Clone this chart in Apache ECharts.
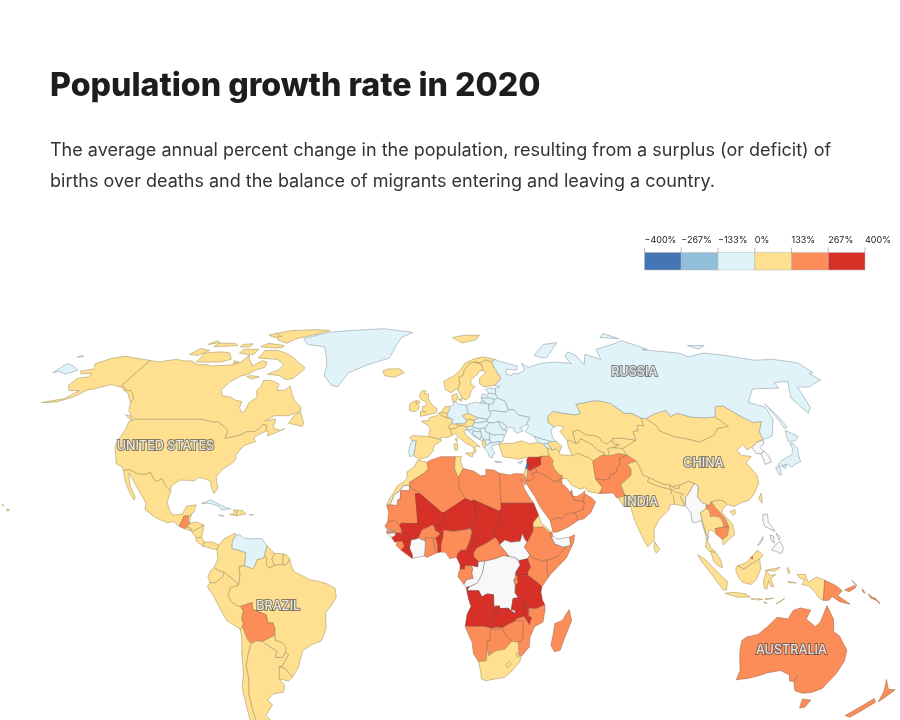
<!DOCTYPE html>
<html><head><meta charset="utf-8">
<style>html,body{margin:0;padding:0;background:#fff}#c{width:900px;height:720px}</style>
<script src="https://cdn.jsdelivr.net/npm/echarts@6/dist/echarts.min.js"></script>
</head><body><div id="c"></div>
<script>
const titleText = 'Population growth rate in 2020';
const subtitleText = 'The average annual percent change in the population, resulting from a surplus (or deficit) of\nbirths over deaths and the balance of migrants entering and leaving a country.';
const legendTicks = [-400, -267, -133, 0, 133, 267, 400];
const legendLabels = ['\u2212400%', '\u2212267%', '\u2212133%', '0%', '133%', '267%', '400%'];
const bandColors = ['#4575b4', '#91bfdb', '#e0f3f8', '#fee090', '#fc8d59', '#d73027'];
const bandBorders = ['#2f4f7f', '#6b8ea3', '#8ea3ad', '#ab9a66', '#a9694a', '#94302a'];
const bandEstimates = [-333, -200, -67, 67, 200, 333];
const band0 = ['Lebanon'];
const band1 = [];
const band2 = ['Greenland','Russia','Chukotka','Wrangel','Novaya Zemlya','Severnaya','New Siberian','Sakhalin','Kaliningrad','Venezuela','Cuba','Jamaica','Puerto Rico','Japan','Hokkaido','Kyushu','Shikoku','Germany','Poland','Lithuania','Latvia','Estonia','Belarus','Ukraine','Moldova','Romania','Bulgaria','Serbia','Croatia','Bosnia','Montenegro','N Macedonia','Greece','Crete','Hungary','Slovakia','Slovenia','Portugal','Georgia','Armenia','Cyprus'];
const band3 = ['Canada','Baffin','Ellesmere','Axel','Devon','Victoria','Banks','Melville','Somerset','Southampton','Newfoundland','Vancouver','Bathurst','Prince Patrick','King William','United States','Alaska','Hawaii','Hawaii2','Mexico','Belize','El Salvador','Honduras','Nicaragua','Costa Rica','Panama','Haiti','Dominican Rep','Colombia','Ecuador','Peru','Guyana','Suriname','French Guiana','Brazil','Chile','Argentina','Tierra del Fuego','Paraguay','Uruguay','Morocco','Tunisia','Eritrea','South Africa','Lesotho','Eswatini','Turkey','Azerbaijan','Iran','Turkmenistan','Uzbekistan','Kyrgyzstan','Tajikistan','Kazakhstan','Mongolia','China','Hainan','Taiwan','India','Bangladesh','Nepal','Bhutan','Sri Lanka','Thailand','Vietnam','Malaysia','Sabah Sarawak','Kalimantan','Sumatra','Java','Sulawesi','Timor','Halmahera','Seram','Bali','Sumbawa','Flores','Sumba','Papua','Norway','Svalbard','Sweden','Finland','Denmark','Zealand','Iceland','Great Britain','N Ireland','Ireland','France','Spain','Italy','Sicily','Sardinia','Corsica','Switzerland','Belgium','Luxembourg','Netherlands','Austria','Czechia','Albania','Israel'];
const band4 = ['Guatemala','Bolivia','Algeria','Libya','Egypt','Mauritania','Senegal','Burkina Faso','Togo','Ghana','Sierra Leone','Nigeria','CAR','Gabon','Ethiopia','Djibouti','Somalia','Kenya','Rwanda','Burundi','Mozambique','Zimbabwe','Namibia','Botswana','Madagascar','Saudi Arabia','Yemen','Oman','UAE','Qatar','Kuwait','Iraq','Jordan','Afghanistan','Pakistan','Laos','Cambodia','Brunei','PNG','New Britain','New Ireland','Bougainville','Solomon','Solomon2','Australia','Tasmania','NZ North','NZ South'];
const band5 = ['Mali','Niger','Chad','Sudan','Cameroon','Eq Guinea','Benin','Guinea','Liberia','Uganda','Tanzania','Angola','Cabinda','Zambia','Malawi','Syria'];
const mapLabels = ['UNITED STATES','RUSSIA','CHINA','INDIA','BRAZIL','AUSTRALIA'];
const mapLabelLon = [-104.6, 95.6, 103.1, 76.5, -56, 132.5];
const mapLabelLat = [40.3, 65.3, 34.8, 22.4, -10.9, -25];

const shapes = {
'Canada':'-141,69.6 -135,69 -133,69.5 -128,70 -125,69.5 -120,69.4 -115,68 -110,68 -108,67.5 -102,67.8 -98,68 -95,69 -94,71.8 -92,70 -90,69 -88,67.5 -85,69.5 -82,69 -81.5,67 -85,66 -87,64.5 -90,63.8 -93,61.8 -94.5,59 -92.5,57 -88,56.4 -85,55.3 -82.3,55 -82,52.9 -80,51.3 -79,51.6 -79,54.5 -76.8,56.5 -78.5,58.7 -77.5,60 -78,62.4 -74,62.2 -70,61 -69.5,58.8 -66,58.8 -64.5,60.3 -62,57.5 -60,55.5 -56,53 -55.7,51.8 -60,50.2 -66,50.2 -69,48.5 -65,49.2 -64.5,47.5 -65,47 -64,46 -61,45.3 -60,46 -63,44.6 -66,43.6 -66,45 -67,45.2 -67.8,47.1 -69.2,47.4 -70.3,45.9 -71.5,45 -74.7,45 -76.5,44 -79,43.4 -82.5,42.8 -82.5,45.3 -84.5,46.5 -88.4,48.3 -89.6,48 -95,49 -123,49 -125,50 -128,52 -130,54.7 -130,56 -134,58.5 -137.5,59 -139,60 -141,60.3',
'Alaska':'-141,69.6 -141,60.3 -139,60 -137.5,59 -134,58.5 -130,56 -130,54.7 -132,56 -135,58 -137,58.5 -140,59.8 -146,60.8 -149,60 -152,59.2 -154,59 -157,56.5 -162,54.8 -168,54.6 -160,56 -157.5,58.7 -162,58.7 -165,60.5 -165,63 -161,63.5 -161,64.8 -166,64.6 -168,65.6 -163,66.5 -166,68.3 -162,70.3 -156.5,71.3 -150,70.5 -145,70',
'United States':'-123,49 -124.7,48.3 -124,46 -124.3,43 -124.3,40.3 -122.5,37.5 -120.6,34.5 -118,33.7 -117.1,32.5 -114.7,32.7 -111,31.3 -108.2,31.3 -106.5,31.8 -104.5,29.6 -103,29 -101.5,29.8 -99.5,27.5 -97.2,25.9 -97.4,27.5 -94.7,29.4 -91,29.3 -89.2,29.1 -88,30.3 -85,29.7 -83,29 -82.7,27.5 -81,25.1 -80,26.8 -81.4,30.5 -79.5,33 -76.5,34.8 -75.7,36 -76,37.5 -74,40.5 -70,41.7 -71,42.8 -70,43.8 -67,45.2 -67.8,47.1 -69.2,47.4 -70.3,45.9 -71.5,45 -74.7,45 -76.5,44 -79,43.4 -82.5,42.8 -82.5,45.3 -84.5,46.5 -88.4,48.3 -89.6,48 -95,49',
'Hawaii':'-156,19.5 -155,19.8 -155.9,20.2',
'Hawaii2':'-157.5,21.3 -158.2,21.6 -158,21.2',
'Vancouver':'-123.5,48.4 -128,50.5 -125,50',
'Baffin':'-62,66 -65,63 -68,62.5 -72,64 -78,64.5 -74,66 -73,68 -78,70 -88,70.5 -88,73.5 -81,73.5 -76,72.5 -70,70.5 -67,69 -62,67',
'Ellesmere':'-62,82.5 -70,83 -85,82.5 -92,81 -87,78 -80,76.5 -78,78 -75,79 -68,80.5',
'Axel':'-92,81 -95,80 -90,79 -87,79.5',
'Devon':'-80,75.5 -90,76.5 -92,75 -85,74.5 -80,74.7',
'Victoria':'-105,69 -117,69 -118,72.5 -110,73 -105,72.5 -101,70',
'Banks':'-120,71.5 -125,72 -123,74.3 -117,73.5',
'Melville':'-105,75.5 -117,75 -117,76.5 -108,76.5',
'Somerset':'-92,72 -96,72 -100,72.5 -100,74 -92,74',
'Bathurst':'-98,76.3 -103,76 -103,75 -98,74.8',
'Prince Patrick':'-117,76.8 -122,76 -120,77.6',
'King William':'-96,69 -99,69.5 -98,68.2',
'Southampton':'-85,64 -81,63.5 -84,62.8 -87,63.7',
'Newfoundland':'-59,47.7 -53,46.7 -52.8,47.8 -55.5,51.5 -57.5,50.5',
'Greenland':'-73,78.5 -68,76 -58,75 -54,71 -52,68 -51,64 -46,60.5 -43,60 -40,65 -32,68 -22,70.5 -20,75 -18,79 -12,81.5 -30,83.5 -50,82.5 -62,81.5',
'Mexico':'-117.1,32.5 -114.7,32.7 -111,31.3 -108.2,31.3 -106.5,31.8 -104.5,29.6 -103,29 -101.5,29.8 -99.5,27.5 -97.2,25.9 -97.8,22.3 -96,19 -94.5,18.2 -91.5,18.6 -90.5,21 -87,21.5 -87.5,19 -88.3,18.5 -89.1,17.9 -91,17.9 -91,17.2 -92.2,14.6 -94.5,16.2 -96.5,15.7 -101,17.3 -105.5,20 -105.5,22 -109,26 -112.7,30 -114.7,31.7 -113,28 -110,24 -110,23 -112,25 -115,29',
'Guatemala':'-92.2,14.6 -91,17.2 -91,17.9 -89.1,17.9 -89.1,15.9 -88.2,15.7 -89.3,14.5 -90.1,13.8',
'Belize':'-88.3,18.5 -89.1,17.9 -89.1,15.9 -88.5,16',
'El Salvador':'-90.1,13.8 -89.3,14.5 -87.8,13.9 -87.8,13.2',
'Honduras':'-89.3,14.5 -88.2,15.7 -86,16 -83.2,15 -85,14 -87,13 -87.8,13.2 -87.8,13.9',
'Nicaragua':'-83.2,15 -83.7,11 -85.7,11 -87.6,13 -87,13 -85,14',
'Costa Rica':'-83.7,11 -82.6,9.6 -83,8.2 -85.7,10 -85.7,11',
'Panama':'-82.6,9.6 -79.5,9.6 -77.3,8.6 -77.9,7.2 -80,7.4 -81.5,8 -83,8.2',
'Cuba':'-85,21.9 -82,23.1 -77,21 -74.2,20.2 -77.5,19.9 -78.5,21 -82,22',
'Haiti':'-74.4,18.4 -71.7,18 -71.7,19.8 -73,19.9 -72.7,18.6',
'Dominican Rep':'-71.7,18 -68.4,18.6 -69.8,19.7 -71.7,19.8',
'Jamaica':'-78.3,18.3 -76.3,18 -77,17.8',
'Puerto Rico':'-67.2,18.4 -65.6,18.3 -66,18',
'Colombia':'-77.3,8.6 -75.5,10.6 -71.7,12.4 -71.3,11.6 -72.5,10 -72.5,7.5 -70,7 -67.5,6.2 -67.8,2 -69.8,1.7 -69.4,-1 -70,-4.2 -72,-2.4 -75.2,-0.1 -77,0.4 -78.8,1.4 -77.5,4 -77.9,7.2',
'Venezuela':'-71.3,11.6 -72.5,10 -72.5,7.5 -70,7 -67.5,6.2 -67.8,2 -65,1 -64,2 -63.4,3.9 -61,4.4 -60.7,5.2 -59.9,8.4 -62,10.7 -66,10.6 -68.5,10.8 -70,12.1',
'Guyana':'-59.9,8.4 -60.7,5.2 -59.9,4.4 -60,2.3 -59,1.3 -57,2 -58,4 -57.2,6',
'Suriname':'-57.2,6 -58,4 -57,2 -55,2.5 -54,2.2 -54,5.8',
'French Guiana':'-54,5.8 -54,2.2 -52.7,2.3 -51.6,4.2 -52.8,5.5',
'Brazil':'-51.6,4.2 -52.7,2.3 -54,2.2 -55,2.5 -57,2 -59,1.3 -60,2.3 -59.9,4.4 -60.7,5.2 -61,4.4 -63.4,3.9 -64,2 -65,1 -67.8,2 -69.8,1.7 -69.4,-1 -70,-4.2 -73,-5 -74,-7.3 -73,-9.4 -70.6,-11 -69.6,-11 -65.4,-9.8 -65.3,-12 -60.5,-13.7 -60.2,-16.3 -58.3,-16.3 -57.8,-18 -58,-20.2 -57.9,-22 -55.7,-22.4 -54.3,-24 -54.6,-25.6 -53.7,-26.5 -56.7,-30.2 -57.6,-30.2 -55.5,-31 -53.4,-33.7 -50.5,-30.5 -48.6,-26 -48,-25 -44.5,-23.2 -41,-22 -39,-18 -39,-13 -37,-11 -34.9,-8 -35.3,-5.2 -38.5,-3.7 -41.5,-2.9 -44.3,-2.5 -48,-0.7 -50,0 -51,2',
'Ecuador':'-75.2,-0.1 -75.6,-1.5 -78.4,-3.5 -80.3,-3.4 -81,-1.5 -80,0.5 -78.8,1.4 -77,0.4',
'Peru':'-70,-4.2 -72,-2.4 -75.2,-0.1 -75.6,-1.5 -78.4,-3.5 -80.3,-3.4 -81.3,-4.6 -79,-8 -77,-12 -75,-15.5 -70.4,-18.3 -69.5,-17.5 -69,-16.5 -69.5,-15 -68.7,-12.5 -69.6,-11 -70.6,-11 -73,-9.4 -74,-7.3 -73,-5',
'Bolivia':'-69.6,-11 -65.4,-9.8 -65.3,-12 -60.5,-13.7 -60.2,-16.3 -58.3,-16.3 -57.8,-18 -58,-20.2 -62.6,-22.2 -65,-22.1 -67,-22.9 -68.2,-21.5 -69,-19 -69.5,-17.5 -69,-16.5 -69.5,-15 -68.7,-12.5',
'Chile':'-70.4,-18.3 -69.5,-17.5 -69,-19 -68.2,-21.5 -67,-22.9 -68.4,-26 -70,-30 -70,-34 -71.5,-39 -72,-44 -72.5,-50 -71,-52 -68.5,-52.3 -68.6,-54.9 -72,-54 -75,-50 -74,-43 -73.5,-37 -71.5,-32 -71,-27 -70.2,-21',
'Argentina':'-65,-22.1 -62.6,-22.2 -60,-24 -57.7,-25.3 -58.6,-27.3 -56,-27.3 -54.6,-25.6 -53.7,-26.5 -56.7,-30.2 -57.6,-30.2 -58.2,-33 -58.4,-34.2 -57,-36.5 -58,-38.5 -62,-39 -65,-41 -63.5,-42.5 -67.5,-46 -66,-48 -69,-51 -68.5,-52.3 -71,-52 -72.5,-50 -72,-44 -71.5,-39 -70,-34 -70,-30 -68.4,-26 -67,-22.9',
'Tierra del Fuego':'-68.6,-52.7 -65.2,-54.9 -68.6,-54.9',
'Paraguay':'-58,-20.2 -57.9,-22 -55.7,-22.4 -54.3,-24 -54.6,-25.6 -56,-27.3 -58.6,-27.3 -57.7,-25.3 -60,-24 -62.6,-22.2',
'Uruguay':'-57.6,-30.2 -55.5,-31 -53.4,-33.7 -55,-34.9 -58.4,-34.2 -58.2,-33',
'Morocco':'-5.9,35.8 -2.2,35.1 -1.7,33 -3.5,31.5 -8.7,28.7 -8.7,27.7 -11,27.7 -12,26.3 -14.5,24.5 -15.8,21.4 -17,21.4 -16,23.5 -14.8,25 -13.2,27.7 -11.5,28.5 -9.7,30 -9.8,32 -7,33.8',
'W Sahara':'-8.7,27.7 -8.7,26 -12,26 -12,23.5 -13,23 -13,21.3 -15.8,21.4 -14.5,24.5 -12,26.3 -11,27.7',
'Algeria':'-2.2,35.1 -1.2,35.7 3,36.9 8.6,36.9 8.2,33 9.5,30.2 9.9,26.5 11.9,23.5 4.2,19.1 3.2,19 -4.8,25 -8.7,27.3 -8.7,28.7 -3.5,31.5 -1.7,33',
'Tunisia':'8.6,36.9 11,37 10.5,35.5 11.5,33.1 9.5,30.2 8.2,33',
'Libya':'11.5,33.1 15.3,32.3 18,30.7 20,31 20,32.8 23,32.6 25,31.6 25,22 25,20 24,19.5 15,23 14.2,22.6 11.9,23.5 9.9,26.5 9.5,30.2',
'Egypt':'25,31.6 29,31 31,31.5 34.2,31.3 34.9,29.5 34.3,27.8 33,29.8 34,26.5 35.5,24 37,22 25,22',
'Sudan':'25,22 37,22 38.6,18 36.4,15.7 36.5,14.3 36.1,12.7 34.9,10.7 34,9.5 33,10.7 32.4,12.2 31.5,9.8 28,9.5 26,10.2 24,8.7 23.5,10 22.5,11 22,12.8 24,15.5 24,19.5 25,20',
'South Sudan':'33,10.7 34,9.5 33,8 35,5.4 34,4.2 31,3.7 29.6,4.5 27.4,5 24,8.7 26,10.2 28,9.5 31.5,9.8 32.4,12.2',
'Ethiopia':'36.5,14.3 38.5,14.4 40,14.5 41.7,13 42.4,12.5 42.8,11 43,11 44,9 47,8 48,8 45,5 42,4 41,3.9 39.5,3.4 36,4.5 35,5.4 33,8 34,9.5 34.9,10.7 36.1,12.7',
'Eritrea':'38.6,18 39.5,15.5 41.7,13.8 43.1,12.7 42.4,12.5 41.7,13 40,14.5 38.5,14.4 36.5,14.3 36.4,15.7',
'Djibouti':'42.4,12.5 43.1,12.7 43.3,11.5 42.8,11',
'Somaliland':'43,11 44,9 47,8 49.7,8.5 49.5,11.2 45,10.5 43.3,11.5',
'Somalia':'42,4 45,5 48,8 49.7,8.5 49.5,11.2 51.3,11.9 50.8,9.5 48,4.5 42,-1 41.5,-1.7 41,-0.5 41,3.9',
'Kenya':'41,3.9 41,-0.5 41.5,-1.7 39.2,-4.7 37.7,-3.5 34,-1 34,0 35,1.5 34,4.2 35,5.4 36,4.5 39.5,3.4',
'Uganda':'34,4.2 35,1.5 34,0 34,-1 30.5,-1 29.6,-1.4 29.7,0 31.3,2.2 30.8,3.5 31,3.7',
'Rwanda':'30.5,-1 29.6,-1.4 29,-2.7 30.5,-2.4 30.8,-2.3',
'Burundi':'29,-2.7 30.5,-2.4 30.8,-3.3 29.6,-4.4',
'Tanzania':'34,-1 37.7,-3.5 39.2,-4.7 38.9,-6.5 39.5,-9 40.4,-10.5 37.5,-11.7 34.9,-11.6 34.6,-11.5 33,-9.5 31,-8.6 30.8,-8.2 29.5,-6.7 29.6,-4.4 30.8,-3.3 30.5,-2.4 30.8,-2.3 30.5,-1',
'DR Congo':'12.2,-6 12.8,-5 13,-4.7 16,-3.5 17.7,-0.5 18.6,3.5 22,4.2 25.5,5.3 27.4,5 29.6,4.5 30.8,3.5 31.3,2.2 29.7,0 29.6,-1.4 29,-2.7 29.6,-4.4 29.5,-6.7 30.8,-8.2 28.9,-8.5 28.4,-12 29.8,-12.2 29.8,-13.4 27.2,-11.6 23.9,-11.7 24,-10.9 22,-11 21.8,-7.3 19.5,-7 17.6,-8 16.5,-6 13,-6',
'Congo':'11.1,-3.9 12,-5 13,-4.7 16,-3.5 17.7,-0.5 18.6,3.5 16.2,3.4 16.1,1.7 13.3,2.2 14.3,1.2 13.9,-0.3 14.4,-2 12,-2.4',
'Gabon':'9.8,1 11.3,1 11.3,2.2 13.3,2.2 14.3,1.2 13.9,-0.3 14.4,-2 12,-2.4 11.1,-3.9 9,-1.5 9.4,0.2',
'Eq Guinea':'9.8,2.3 11.3,2.2 11.3,1 9.8,1',
'Cabinda':'12,-5 13,-4.7 12.8,-5 12.2,-5.8',
'Angola':'12.2,-6 13,-6 16.5,-6 17.6,-8 19.5,-7 21.8,-7.3 22,-11 24,-10.9 23.9,-11.7 24,-13 22,-13 22,-16.2 23.4,-17.6 21.4,-18 18.5,-17.4 14,-17.4 11.8,-17.3 12.4,-13.5 13.8,-11 13,-9',
'Zambia':'24,-10.9 23.9,-11.7 27.2,-11.6 29.8,-13.4 29.8,-12.2 28.4,-12 28.9,-8.5 30.8,-8.2 31,-8.6 33,-9.5 33.5,-11 33,-14.2 30.2,-15 30,-15.6 28,-16.5 25.3,-17.8 23.4,-17.6 22,-16.2 22,-13 24,-13',
'Malawi':'33,-9.5 34.6,-11.5 34.7,-14 35.8,-14.5 35.2,-17 34.3,-15.8 33,-14.2 33.5,-11',
'Mozambique':'40.4,-10.5 37.5,-11.7 34.9,-11.6 34.6,-11.5 34.7,-14 35.8,-14.5 35.2,-17 34.3,-15.8 33,-14.2 30.2,-15 30,-15.6 33,-15.7 32.8,-19 33,-21.5 31.3,-22.4 32,-26.8 32.9,-26.9 35.5,-24 35.5,-21 37,-17.5 40,-16 40.6,-12',
'Zimbabwe':'25.3,-17.8 28,-16.5 30,-15.6 33,-15.7 32.8,-19 33,-21.5 31.3,-22.4 29,-22.2 26,-19.5',
'Namibia':'11.8,-17.3 14,-17.4 18.5,-17.4 21.4,-18 23.4,-17.6 25.3,-17.8 23.3,-18.4 21,-18.3 21,-22 20,-22 20,-24.8 20,-28.4 17,-28.7 15,-26 14.4,-22.5 12,-18',
'Botswana':'20,-22 21,-22 21,-18.3 23.3,-18.4 25.3,-17.8 26,-19.5 29,-22.2 26.5,-24.7 23,-25.3 20.7,-26.8 20,-24.8',
'South Africa':'17,-28.7 20,-28.4 20,-24.8 20.7,-26.8 23,-25.3 26.5,-24.7 29,-22.2 31.3,-22.4 32,-26.8 32.9,-26.9 32.4,-28.6 30,-31.5 27,-33.8 25,-34 20,-34.8 18.4,-34.2 18,-32',
'Lesotho':'27.2,-29.6 28.5,-28.6 29.4,-29.5 28,-30.6',
'Eswatini':'31,-25.9 32,-26.3 31.9,-27.3 30.9,-26.8',
'Madagascar':'49.3,-12 50.4,-15.5 48,-22 47,-25 45,-25.5 43.5,-23.5 44,-20 44.4,-16.5 47,-15.5',
'Mauritania':'-8.7,27.3 -4.8,25 -6.5,25 -5.5,15.5 -9.3,15.5 -11.5,15.6 -12.2,14.8 -14,16.6 -16.5,16 -16.2,19 -17,21.4 -15.8,21.4 -13,21.3 -13,23 -12,23.5 -12,26 -8.7,26',
'Mali':'-4.8,25 3.2,19 4.2,19.1 4.2,16.9 3.5,15.4 0.2,14.9 -0.5,15 -2,14.2 -4,13.5 -5.3,10.8 -6.2,10.5 -8,10.2 -8.3,11 -9,12.4 -11.3,12 -11.5,13.5 -12.2,14.8 -11.5,15.6 -9.3,15.5 -5.5,15.5 -6.5,25',
'Niger':'4.2,19.1 11.9,23.5 14.2,22.6 15,23 15.5,20 15.6,16.9 13.5,14 13.5,13.7 10,13.3 7,13 3.9,13.4 3.6,11.7 2.4,12 2.1,12.7 0.9,13.1 0.2,14.9 3.5,15.4 4.2,16.9',
'Chad':'15,23 24,19.5 24,15.5 22,12.8 22.5,11 19,9 15.5,7.5 15.2,10 14.2,12.5 14.1,13 13.5,13.7 13.5,14 15.6,16.9 15.5,20',
'CAR':'15.5,7.5 19,9 22.5,11 23.5,10 24,8.7 27.4,5 25.5,5.3 22,4.2 18.6,3.5 16.2,3.4 14.5,5 14.5,6.2',
'Cameroon':'8.5,4.7 9.8,2.3 11.3,2.2 13.3,2.2 16.1,1.7 16.2,3.4 14.5,5 14.5,6.2 15.5,7.5 15.2,10 14.2,12.5 14.1,13 13.3,10 11.8,7 10,7 8.8,5.8',
'Nigeria':'3.6,11.7 3.9,13.4 7,13 10,13.3 13.5,13.7 14.1,13 13.3,10 11.8,7 10,7 8.8,5.8 8.5,4.7 6,4.3 4.5,6.3 2.7,6.4 2.8,9',
'Benin':'2.7,6.4 1.6,6.2 1.5,9 0.9,10.9 2.4,12 3.6,11.7 2.8,9',
'Togo':'1.6,6.2 1.2,6.1 0.5,7.5 0,11 0.9,10.9 1.5,9',
'Ghana':'1.2,6.1 -2,4.7 -3.1,5.1 -2.8,8 -2.8,9.9 -2.8,11 0,11 0.5,7.5',
'Burkina Faso':'-5.3,10.8 -2.8,9.9 -2.8,11 0,11 0.9,10.9 2.4,12 2.1,12.7 0.9,13.1 0.2,14.9 -0.5,15 -2,14.2 -4,13.5',
'Cote d Ivoire':'-8,10.2 -6.2,10.5 -5.3,10.8 -2.8,9.9 -2.8,8 -3.1,5.1 -7.5,4.4 -7.5,5.5 -8.5,7.6',
'Liberia':'-7.5,4.4 -7.5,5.5 -8.5,7.6 -9.4,7.4 -10.3,8.4 -11.5,7',
'Sierra Leone':'-11.5,7 -10.3,8.4 -10.6,9.3 -11.2,10 -12.8,9.9 -13.3,8.5',
'Guinea':'-13.7,9.5 -12.8,9.9 -11.2,10 -10.6,9.3 -10.3,8.4 -9.4,7.4 -8.5,7.6 -8,10.2 -8.3,11 -9,12.4 -11.3,12 -11.5,12.5 -13.7,12.6 -13.7,11.7 -15,11',
'Guinea-Bissau':'-16.7,12.4 -13.7,12.6 -13.7,11.7 -15,11',
'Senegal':'-16.5,16 -14,16.6 -12.2,14.8 -11.5,13.5 -11.3,12 -11.5,12.5 -13.7,12.6 -16.7,12.4 -16.8,13.1 -14,13.2 -13.8,13.5 -16.5,13.6 -17.5,14.7',
'Gambia':'-16.8,13.1 -14,13.2 -13.8,13.5 -16.5,13.6',
'Saudi Arabia':'34.9,29.4 36,29.2 37.5,30 38,30.5 37,31.5 39,32 42,31 44.7,29.2 46.5,29.1 48,28.5 50,26.6 50.8,24.8 51.6,24.3 52,22.9 55,22.7 55.7,22 55,20 52,19 49,18.6 47,17 45,17.4 43.2,16.5 42.7,16.4 39.2,21 37.5,24.3 35,28',
'Yemen':'42.7,16.4 43.2,16.5 45,17.4 47,17 49,18.6 52,19 53,16.6 49,14.3 45,12.8 43.5,12.7',
'Oman':'55,20 55.7,22 55.2,23 56,24.5 56.4,24.9 58.7,23.6 59.8,22.4 57.7,19 55,17 53,16.6 52,19',
'UAE':'51.6,24.3 52,22.9 55,22.7 55.7,22 55.2,23 56,24.5 56.3,26 55,25 53,24.1',
'Qatar':'50.8,24.8 51.6,24.3 51.5,26.1 51,26',
'Kuwait':'46.5,29.1 48,28.5 48.4,29.9 47.7,30.1',
'Iraq':'39,32 42,31 44.7,29.2 46.5,29.1 47.7,30.1 48.5,29.9 48.6,31 47.7,31 46,33 45.5,34.5 46,35.8 44.8,37.2 42.4,37.1 41.2,36.5 41,34.4 38.8,33.4',
'Syria':'38.8,33.4 41,34.4 41.2,36.5 42.4,37.1 40,36.8 36.7,36.8 36,36 35.8,34.7 36.5,34.5 36,33.8 35.7,33.3 35.7,32.8 36.8,32.3',
'Jordan':'34.9,29.4 36,29.2 37.5,30 38,30.5 37,31.5 39,32 38.8,33.4 36.8,32.3 35.7,32.8 35.5,31.5',
'Israel':'34.2,31.3 34.9,29.5 35.5,31.5 35.7,32.8 35.7,33.3 35.1,33.1',
'Lebanon':'35.1,33.1 35.7,33.3 36,33.8 36.5,34.5 35.8,34.7',
'Turkey':'26,40 27,36.8 30.5,36.5 32.5,36 36,36.7 36.7,36.8 40,36.8 42.4,37.1 44.8,37.2 44.5,39.7 43.5,41 41.5,41.5 38,41 35,42 31.5,41.2 29,41.2 27.5,41 26.2,41.7',
'Georgia':'40,43.5 46.5,41.8 45,41.2 43.5,41 41.5,41.5',
'Armenia':'43.5,41 45,41.2 46.5,39 44.5,39.7',
'Azerbaijan':'45,41.2 46.5,41.8 48.5,41.8 50.3,40.3 49,38.4 48,39.5 46.5,39',
'Iran':'44.5,39.7 44.8,37.2 46,35.8 45.5,34.5 46,33 47.7,31 48.6,31 48.5,29.9 50,30 51.5,27.9 54.5,26.5 56.5,27 57.5,25.7 61.5,25.1 63,27 60.9,29.8 61,31.5 61,34 61.2,35.6 60,36.5 56,38 54,37.3 53.8,37 49,37.5 49,38.4 48,39.5 46.5,39',
'Afghanistan':'60.9,29.8 61,31.5 61,34 61.2,35.6 64.5,37.1 65.7,37.5 67.8,37.2 70,37.6 71.5,38 74.9,37.4 71.5,36.3 71.2,34.3 69.5,33 69.3,31.9 66.5,31 66.3,29.9 64,29.4',
'Pakistan':'61.5,25.1 66.7,25.3 67.5,24 68.2,23.7 71,24.4 70,28 73,29.9 74.5,31 75,33 74,34.5 77.8,35.5 74.9,37.4 71.5,36.3 71.2,34.3 69.5,33 69.3,31.9 66.5,31 66.3,29.9 64,29.4 60.9,29.8 63,27',
'Turkmenistan':'54,42.3 53,42 52.8,40 53.8,37 54,37.3 56,38 60,36.5 61.2,35.6 64.5,37.1 65.7,37.5 66.5,38 64,39 62,41 60,42 58.5,42.7 57,41.3 56,41.3 55.5,41.3',
'Uzbekistan':'56,45 56,41.3 57,41.3 58.5,42.7 60,42 62,41 64,39 66.5,38 65.7,37.5 67.8,37.2 68.2,38.2 68,39.5 70,39.8 71.5,40.2 73,40.8 71,41 70.8,42.2 68,41 66.5,41.9 66,43 64.5,43.7 61,44 58.5,45.5',
'Kyrgyzstan':'70.8,42.2 71.2,42.8 74.5,42.9 80.2,42.2 76,40.4 73.7,39.5 70,39.8 71.5,40.2 73,40.8 71,41',
'Tajikistan':'68.2,38.2 68,39.5 70,39.8 73.7,39.5 74.9,37.4 71.5,38 70,37.6 67.8,37.2',
'Kazakhstan':'47.5,50 47,48 49,46.5 51,47 53,46.5 51,45 53,42 54,42.3 55.5,41.3 56,41.3 56,45 58.5,45.5 61,44 64.5,43.7 66,43 66.5,41.9 68,41 70.8,42.2 71.2,42.8 74.5,42.9 80.2,42.2 80.3,45 82.5,45.3 83,47 85.7,47 85.8,49.5 83,51 80,51 77,53.5 76,54.3 71,55.3 68,55 61,54 61.5,51 59.5,50.5 54.5,51 50.5,51.7',
'Mongolia':'87.8,49.2 92,50.7 98,52 98.5,50 102,51 107,49.7 112,49.5 116.7,49.8 119.9,46.7 115,46 111.9,43.7 105,41.6 100,42.7 96,43.3 91,45.2 90.8,46.9',
'China':'73.7,39.5 76,40.4 80.2,42.2 80.3,45 82.5,45.3 83,47 85.7,47 85.8,49.5 87.8,49.2 90.8,46.9 91,45.2 96,43.3 100,42.7 105,41.6 111.9,43.7 115,46 119.9,46.7 116.7,49.8 120,53.3 123.5,53.5 127.5,50 130.9,48 134.7,48.3 131,45 130.6,42.4 127.5,41.5 124.4,40 122,39 121.5,40.8 118,39 119,37.3 122.6,37 119.5,35 121.8,31 121.6,28.5 119,25.3 116.5,23 113.5,22.2 110.5,21 108,21.6 106.7,22.8 105,23 102.5,22.5 101.5,21.2 100.5,21.5 99,22.2 97.6,24 98.7,27.5 97.5,28.3 95.5,29 92,27.8 89,27.3 88.2,27.8 86,28 81,30.2 78.8,31 78.5,33 77.8,35.5 74.9,37.4',
'Hainan':'108.7,19.3 110.5,20 110.5,18.7 109.5,18.2',
'Taiwan':'121.5,25.3 121,22 120,23.5',
'India':'68.2,23.7 70,21 72.6,21 72.8,19 74,15 76.3,10 77.5,8 80,10.3 80.2,13.5 82.3,16.7 86.5,20 87,21.5 88.8,21.7 88.8,24.3 88.1,25 88.5,26.4 89.8,25.5 92.5,25 91.3,24 92.6,21.2 93.3,24 94.7,25.3 97.5,28.3 95.5,29 92,27.8 91.5,26.8 89.8,26.8 89,27.3 88.2,27.8 88.2,26.4 84,27.4 80.1,28.8 81,30.2 78.8,31 78.5,33 77.8,35.5 74,34.5 75,33 74.5,31 73,29.9 70,28 71,24.4',
'Bangladesh':'88.8,21.7 92.3,21 92.6,21.2 91.3,24 92.5,25 89.8,25.5 88.5,26.4 88.1,25 88.8,24.3',
'Nepal':'80.1,28.8 84,27.4 88.2,26.4 88.2,27.8 86,28 81,30.2',
'Bhutan':'89,27.3 92,27.8 91.5,26.8 89.8,26.8',
'Sri Lanka':'80,9.8 81.8,7.3 80.5,6 79.8,7.5',
'Myanmar':'92.6,21.2 93.3,24 94.7,25.3 97.5,28.3 98.7,27.5 97.6,24 99,22.2 100.5,21.5 100.1,20.3 97.8,19 98.2,15.5 99,12 99.6,11 98.8,10 98.7,12 97.7,16.5 95.5,15.8 94.3,16 94.3,19',
'Laos':'101.5,21.2 102.5,22.5 103.5,20.7 104.8,19.3 106.7,16.9 107.5,14.5 105.5,14.3 105.5,15.8 104.7,17.5 102.5,17.9 101.2,17.6 101.2,19.5 100.1,20.3 100.5,21.5',
'Thailand':'100.1,20.3 101.2,19.5 101.2,17.6 102.5,17.9 104.7,17.5 105.5,15.8 105.5,14.3 102.4,13.9 102.8,12 100.9,13.4 100,13.4 99.2,10 100.4,7.4 101.6,6.8 102,6.2 100.2,6.5 99.7,6.5 98.3,8 98.8,10 99.6,11 99,12 98.2,15.5 97.8,19',
'Cambodia':'102.4,13.9 105.5,14.3 107.5,14.5 106.6,11.5 104.6,10.4 102.8,12',
'Vietnam':'108,21.6 106,20 105.7,18.9 108.8,15.5 109.3,12 107,10.4 104.8,8.6 104.6,10.4 106.6,11.5 107.5,14.5 106.7,16.9 104.8,19.3 103.5,20.7 102.5,22.5 105,23 106.7,22.8',
'Malaysia':'100.2,6.5 102,6.2 103.5,4 104.2,1.4 102.5,2 101,3.5',
'Kalimantan':'109,1.4 109.6,2 111.8,1 115,2.8 117.6,4.2 118,1 116.3,-2.5 114.5,-4 111.5,-3.3 110,-1.8 109,0',
'Sabah Sarawak':'109.6,2 111.3,2.5 113,3.2 115,5 117,7 119,5.3 117.6,4.2 115,2.8 111.8,1',
'Brunei':'114.3,4.6 115.2,5 115,4',
'Sumatra':'95.3,5.6 98,4 103.5,-1 106,-3 105.8,-5.8 104.5,-5.7 100.5,-1 97,3',
'Java':'105.3,-6.8 108.5,-6.5 112.8,-7 114.5,-8 110,-8.1',
'Sulawesi':'119.5,0.5 125,1.5 123,0.3 120,0.5 121,-1 123.3,-0.9 121.5,-1.9 122.8,-4.8 121.5,-4.5 120.8,-2.7 120.3,-5.5 119.4,-5.3 119,-3 119.8,0',
'Timor':'124,-10.2 127,-8.4 125.5,-9.5',
'Halmahera':'127.5,1.5 128.5,0 127.8,-0.5',
'Seram':'127.8,-3 130.8,-3.5 128,-3.4',
'Bali':'115,-8.4 116.5,-8.7 115,-8.8',
'Sumbawa':'116.8,-8.5 119,-8.7 117,-9',
'Flores':'120,-8.5 123,-8.4 120,-8.9',
'Sumba':'119.5,-9.5 120.8,-10 119.8,-9.9',
'Papua':'131,-0.8 134,-0.8 135,-3.3 138,-1.6 141,-2.6 141,-9.1 139,-8.1 138,-6.7 135.5,-4.5 132.8,-4 133.8,-2.5 132,-2',
'PNG':'141,-2.6 145,-4.3 147.5,-6 146,-7.5 150.8,-10.3 147,-9.5 144,-7.8 143,-9 141,-9.1',
'New Britain':'148.4,-5.7 152,-4.2 152.2,-5 150,-6.3',
'New Ireland':'150.8,-2.7 152.8,-4.5 152.3,-4.1',
'Bougainville':'154.7,-5.4 155.9,-6.8 155,-6.4',
'Solomon':'157,-7 160,-9 158,-8.3',
'Solomon2':'159,-8 161.5,-10.2 161,-9.5',
'Luzon':'120.6,18.5 122.2,18.5 122,16 123.5,13.8 124,13 121.8,14 120.5,14.5 120.1,16.5',
'Mindanao':'122,7 123.5,8.6 125.5,9.8 126.5,7.5 125.5,5.8 124,6.5',
'Palawan':'117.2,8.4 119.5,11.3 118.7,9.5',
'Samar':'124.3,12.5 125.7,11 125,10.2',
'Negros':'122,11.8 123.2,11.5 123.3,9.3 122.5,9.8',
'North Korea':'124.4,40 127.5,41.5 130.6,42.4 129.7,41 127.5,39.8 128.4,38.6 126.7,37.8 125,38',
'South Korea':'126.7,37.8 128.4,38.6 129.4,37 129.3,35.3 126.5,34.4 126.7,36',
'Japan':'131,34 133,35.5 136.5,36.8 138.5,37.5 140,39.5 140.3,41.3 141.4,41.2 142,39.5 141,37.5 140.5,35.3 138.5,34.7 136,33.5 135,34.5 132,33.9',
'Hokkaido':'140,41.8 141.7,45.4 145.3,43.5 143,42',
'Kyushu':'130,33.5 131.7,33.5 131,31 130.2,31.3',
'Shikoku':'132.5,33.8 134.5,34.2 133.5,33',
'Sakhalin':'142,54.3 143,50 143.5,46.5 142,46 142,50',
'Russia':'28,59.5 30,60 28,60.5 30,62 31.5,63 29.7,66.5 29,69 31,70 33,69.3 41,67.5 40,66 35,66.3 34.5,64.5 37,64 38,64.8 40,64.6 44,66 43.5,68.5 46,67 53,68.5 60,69 68,68.5 67,71 70,73 73,71.5 74,68 78,72 84,70 86,74 100,76.5 105,77.7 113,74 110,73.8 127,72.5 129.5,71 140,72.5 150,71.5 160,69.7 170,70 178,69 180,68.5 180,65 177.5,64.7 179,62.5 173,61 170,60 164,59.9 162.5,57.5 160,53 156.7,51 155.7,56 159,59 163,62 156,61.5 155,59.5 150,59.5 143,59.3 135.5,54.7 141,53 140,49 135,43.5 130.6,42.4 131,45 134.7,48.3 130.9,48 127.5,50 123.5,53.5 120,53.3 116.7,49.8 112,49.5 107,49.7 102,51 98.5,50 98,52 92,50.7 87.8,49.2 85.8,49.5 83,51 80,51 77,53.5 76,54.3 71,55.3 68,55 61,54 61.5,51 59.5,50.5 54.5,51 50.5,51.7 47.5,50 47,48 49,46.5 47.5,45.5 47.5,43 48.5,41.8 46.5,41.8 40,43.5 37,45 39,47 38,47.2 40,49.6 35.5,50.4 34,52.3 31.8,52.1 31,55 28.2,56.1 27.5,57.5',
'Chukotka':'-180,68.5 -175,67.5 -170,66 -173,64.5 -178,65.5 -180,65',
'Wrangel':'-180,71.5 -177.5,71.2 -180,70.8',
'Novaya Zemlya':'51.5,71.5 55,70.7 57.5,70.7 68,76.8 60,76 54,73',
'Severnaya':'95,79 105,78.5 100,81',
'New Siberian':'137,75.5 146,75.5 140,74',
'Kaliningrad':'20,54.4 22.7,54.4 22,55.1 21,55.3',
'Norway':'31,70 29,69 26,69.8 24,68.7 20.5,69 18,68.5 15,66 14,64 12,63.5 12.2,61 11,59 10.5,59.3 8,58 5.5,59 5,62 10,64 13,66 16,68.7 20,70 25,71',
'Svalbard':'11,79 16,76.6 24,78 27,80 18,80',
'Sweden':'24,65.8 24,68 20.5,69 18,68.5 15,66 14,64 12,63.5 12.2,61 11,59 12.7,56 14.3,55.5 16,56.5 17,58.7 18.9,60 17.2,61 17.5,62.5 21,64.5 22,65.7',
'Finland':'24,65.8 25.3,65.3 21.5,63 21.3,61 23,60 25,60.2 28,60.5 30,62 31.5,63 29.7,66.5 29,69 26,69.8 24,68.7 20.5,69 24,68',
'Denmark':'8.2,57 10.5,57.7 10.9,56.3 9.7,54.8 8.6,54.9',
'Zealand':'11,55.7 12.5,56 12.2,55',
'Iceland':'-24,65.5 -22,66.4 -16,66.5 -13.6,65 -18,63.4 -22.5,63.9',
'Great Britain':'-5.2,50 -1,50.7 1.4,51.2 1.7,52.7 0,53.5 -1.5,55 -2,56 -2,57.5 -4,57.7 -3,58.6 -5,58.6 -6,57 -5,55.5 -3,54.9 -3,53.5 -4.5,53.3 -4.5,52 -3,51.4 -5.2,51.7',
'N Ireland':'-5.5,54.5 -6,55.2 -7.3,55.2 -7.3,54.2',
'Ireland':'-7.3,55.2 -8.5,55 -10,54 -10,52 -8,51.5 -6.2,52.2 -6,53.7 -7.3,54.2',
'France':'-1.8,43.4 3.1,42.4 3.2,43.2 6,43.1 7.5,43.8 7,45.9 6,46.4 7.6,47.6 8.2,49 6.5,49.5 5.8,49.5 4.2,50 2.5,51.1 1.6,50.2 -1.3,49.6 -1.6,48.7 -4.8,48.4 -2,47 -1.2,46',
'Spain':'-9.3,43 -8.2,42 -6.6,41.9 -6.9,41 -7,39.7 -7.5,37.2 -6.3,36.6 -5.3,36 -2,36.8 0,38.7 0.5,40.5 3.2,41.9 3.1,42.4 -1.8,43.4 -8,43.7',
'Portugal':'-8.2,42 -6.6,41.9 -6.9,41 -7,39.7 -7.5,37.2 -9,37 -9.5,38.8 -8.8,41',
'Italy':'7.5,43.8 8.8,44.4 10.5,42.9 13,41.2 15.7,40 16,38 17,39 16.2,39.7 17,40.4 18.4,40 16,41.9 13.5,43.6 12.3,45.2 13.7,45.6 13.7,46.5 12.2,47 10.5,46.9 9,46 7,45.9',
'Sicily':'12.5,38 15.6,38.2 15.1,36.7',
'Sardinia':'8.2,41 9.7,41 9.5,39 8.5,39',
'Corsica':'8.7,42.5 9.5,43 9.4,41.5',
'Crete':'23.6,35.5 26.3,35.2 24,35',
'Cyprus':'32.3,35 34.5,35.6 33.5,34.7',
'Switzerland':'6,46.4 7,45.9 9,46 10.5,46.9 9.5,47.5 7.6,47.6',
'Belgium':'2.5,51.1 3.4,51.4 4.3,51.4 6,50.8 6.2,49.9 5.8,49.5 4.2,50',
'Luxembourg':'5.8,49.5 6.2,49.9 6.5,49.5',
'Netherlands':'3.4,51.4 4.3,51.4 6,50.8 7,52.2 7.2,53.3 5,53.2 4,52',
'Germany':'7.2,53.3 7,52.2 6,50.8 6.2,49.9 6.5,49.5 8.2,49 7.6,47.6 9.5,47.5 13,47.5 13.8,48.7 12.2,50.2 14.8,51 14.2,53.8 11,54 9.7,54.8 8.6,54.9 9,53.8',
'Austria':'9.5,47.5 10.5,46.9 12.2,47 13.7,46.5 16.1,46.8 17,48 17,48.7 15,49 13.8,48.7 13,47.5',
'Slovenia':'13.7,46.5 16.1,46.8 16.4,46.3 15.3,45.5 13.7,45.6',
'Czechia':'12.2,50.2 13.8,48.7 15,49 17,48.7 18.8,49.5 16.5,50.3 14.8,51',
'Slovakia':'17,48 17,48.7 18.8,49.5 22.5,49.1 22.1,48.4 18.8,47.8',
'Hungary':'16.1,46.8 17,48 18.8,47.8 22.1,48.4 22.9,47.9 21,46.2 18.8,45.9 16.4,46.3',
'Poland':'14.2,53.8 14.8,51 16.5,50.3 18.8,49.5 22.5,49.1 24,50.5 24,51.6 23.5,52 23.9,54 22.7,54.4 20,54.4 18.5,54.8 16,54.3',
'Lithuania':'21,55.3 22,55.1 22.7,54.4 23.9,54 25.8,54.2 26.6,55.7 24,56.3 21,56.1',
'Latvia':'21,56.1 24,56.3 26.6,55.7 28.2,56.1 27.5,57.5 24.4,57.9 24,57 22,57.6 21.5,57.4',
'Estonia':'24.4,57.9 27.5,57.5 28,59.5 25,59.5 23.5,59.2',
'Belarus':'23.9,54 23.5,52 24,51.6 25,51.9 30.5,51.4 31.8,52.1 31,55 28.2,56.1 26.6,55.7 25.8,54.2',
'Ukraine':'22.1,48.4 22.5,49.1 24,50.5 24,51.6 25,51.9 30.5,51.4 31.8,52.1 34,52.3 35.5,50.4 40,49.6 38,47.2 35,46.2 36.5,45.3 33.5,44.4 32.5,45.4 33,46 30.8,46.5 29.7,45.3 28.7,45.5 30,46.6 28,48 26.6,48.3 24.8,47.8 22.9,47.9',
'Moldova':'26.6,48.3 28,48 30,46.6 28.7,45.5 28.2,45.5 27.3,47',
'Romania':'22.9,47.9 24.8,47.8 26.6,48.3 27.3,47 28.2,45.5 28.7,45.5 29.7,45.1 28.6,43.7 27,44.1 24,43.8 22.6,44.5 21.3,44.8 21,46.2',
'Bulgaria':'22.6,44.5 24,43.8 27,44.1 28.6,43.7 27.7,42.5 28,42 26.2,41.7 24,41.5 22.8,41.3 22.4,42.3',
'Serbia':'18.8,45.9 21,46.2 21.3,44.8 22.6,44.5 22.4,42.3 21.6,42.3 20.5,42.2 20,42.5 20,43 19.3,43.5 19.1,44.9',
'Croatia':'13.7,45.6 15.3,45.5 16.4,46.3 18.8,45.9 19.1,44.9 16,45.2 15.8,44.2 18.5,42.5 16,43.5 15,44.5 14.3,45.2',
'Bosnia':'19.1,44.9 19.3,43.5 18.5,42.5 15.8,44.2 16,45.2',
'Montenegro':'18.5,42.5 19.3,43.5 20,43 20,42.5 19.4,41.9',
'Albania':'19.4,41.9 20,42.5 20.5,42.2 20.6,41 21,40.7 20,39.7 19.4,40.5',
'N Macedonia':'20.5,42.2 21.6,42.3 22.4,42.3 22.8,41.3 21,40.7 20.6,41',
'Greece':'20,39.7 21,40.7 22.8,41.3 24,41.5 26.2,41.7 26,40.8 24,40.7 22.8,40.3 23.2,39 24,38 23,37.5 22.8,36.5 21.8,36.8 21.2,38.3',
'Australia':'113.5,-22 115,-20.8 119,-20 122,-17.5 125,-14.5 129,-15 130.5,-12.3 133,-11.5 136.8,-12.2 135.6,-15 139.5,-17.5 141,-16 142.5,-10.8 145.5,-15 146.5,-19 149,-20.5 153,-25 153.5,-28.5 152.5,-32.5 150,-37.3 147,-38.5 143.5,-38.8 140,-38 138,-35.5 138,-33 137.7,-35 136,-34.9 135,-33 131,-31.5 126,-32.3 124,-33 120,-34 115.5,-34.5 115.7,-31.5 114,-27 113.5,-25',
'Tasmania':'144.7,-40.7 148.3,-41 147.8,-43.3 146,-43.6',
'NZ North':'172.7,-34.4 174.8,-36.7 176,-37.6 178.5,-37.7 177,-39.5 175.3,-41.6 174.8,-39.5 174.5,-38',
'NZ South':'172.7,-40.5 174.3,-41.7 171.3,-44.5 169,-46.6 166.5,-46 170,-43'
};

// Robinson projection tables, one row per five degrees of latitude
const robinsonLen = [1,.9986,.9954,.99,.9822,.973,.96,.9427,.9216,.8962,.8679,.835,.7986,.7597,.7186,.6732,.6213,.5722,.5322];
const robinsonDrop = [0,.062,.124,.186,.248,.31,.372,.434,.4958,.5571,.6176,.6769,.7346,.7903,.8435,.8936,.9394,.9761,1];
const mapCenterX = 433, mapCenterY = 572, mapScaleX = 2.78, mapScaleY = 252.08;
function lookup(table, absLat) {
  const f = Math.min(absLat / 5, 17.9999), i = Math.floor(f);
  return table[i] + (table[i + 1] - table[i]) * (f - i);
}
function project(p) {
  const a = Math.abs(p[1]);
  return [mapCenterX + mapScaleX * p[0] * lookup(robinsonLen, a),
          mapCenterY - Math.sign(p[1]) * mapScaleY * lookup(robinsonDrop, a)];
}
function unproject(pt) {
  const d = (mapCenterY - pt[1]) / mapScaleY, ad = Math.min(Math.abs(d), .9999);
  let i = 0; while (i < 17 && robinsonDrop[i + 1] < ad) i++;
  const a = 5 * (i + (ad - robinsonDrop[i]) / (robinsonDrop[i + 1] - robinsonDrop[i]));
  return [(pt[0] - mapCenterX) / mapScaleX / lookup(robinsonLen, a), Math.sign(d) * a];
}

const bands = [band0, band1, band2, band3, band4, band5];
const features = Object.keys(shapes).map(name => {
  const ring = shapes[name].split(' ').map(s => s.split(',').map(Number));
  ring.push(ring[0].slice());
  return { type: 'Feature', properties: { name }, geometry: { type: 'Polygon', coordinates: [ring] } };
});
let x0 = 1e9, x1 = -1e9, y0 = 1e9, y1 = -1e9;
features.forEach(f => f.geometry.coordinates[0].forEach(c => {
  const q = project(c);
  x0 = Math.min(x0, q[0]); x1 = Math.max(x1, q[0]); y0 = Math.min(y0, q[1]); y1 = Math.max(y1, q[1]);
}));
echarts.registerMap('world', { type: 'FeatureCollection', features });

const regionStyles = [], mapData = [];
bands.forEach((names, b) => names.forEach(name => {
  regionStyles.push({ name, itemStyle: { borderColor: bandBorders[b] } });
  mapData.push({ name, value: bandEstimates[b] });
}));

const legendLeft = 644.5, legendStep = 36.75, legendTop = 252.5, legendBarH = 17.5;
const legendGraphics = [];
bandColors.forEach((c, i) => legendGraphics.push({ type: 'rect',
  shape: { x: legendLeft + i * legendStep, y: legendTop, width: legendStep, height: legendBarH },
  style: { fill: c, stroke: '#b5b5b5', lineWidth: 0.5 } }));
legendTicks.forEach((t, i) => {
  const x = legendLeft + i * legendStep;
  legendGraphics.push({ type: 'line', shape: { x1: x, y1: 247.5, x2: x, y2: legendTop }, style: { stroke: '#aaa', lineWidth: 0.8 } });
  legendGraphics.push({ type: 'text', x, y: 240.5, style: { text: legendLabels[i], font: '9px Inter', fill: '#222', textAlign: 'left', textVerticalAlign: 'middle' } });
});

const chart = echarts.init(document.getElementById('c'), null, { renderer: 'canvas' });
chart.setOption({
  animation: false,
  backgroundColor: '#fff',
  title: [
    { text: titleText, left: 45, top: 65, textStyle: { fontFamily: 'Inter', fontWeight: 800, fontSize: 32.15, color: '#1d1d1d' } },
    { text: subtitleText, left: 45, top: 130, textStyle: { fontFamily: 'Inter', fontWeight: 400, fontSize: 18, lineHeight: 31, color: '#333' } }
  ],
  graphic: legendGraphics,
  visualMap: { show: false, type: 'piecewise', seriesIndex: 0, pieces: bandColors.map((color, i) => ({ min: legendTicks[i], max: legendTicks[i + 1], color })) },
  geo: {
    map: 'world', roam: false, silent: true, projection: { project, unproject },
    left: x0, top: y0, width: x1 - x0, height: y1 - y0,
    itemStyle: { areaColor: '#f8f8f9', borderColor: '#8c8c8c', borderWidth: 0.6 },
    label: { show: false }, regions: regionStyles
  },
  series: [
    { type: 'map', geoIndex: 0, data: mapData },
    { type: 'scatter', coordinateSystem: 'geo', symbolSize: 0, silent: true, z: 5,
      data: mapLabels.map((n, i) => ({ name: n, value: [mapLabelLon[i], mapLabelLat[i]] })),
      label: { show: true, position: 'inside', formatter: '{b}', fontFamily: 'Inter', fontSize: 12.6, fontWeight: 500, color: '#fff', textBorderColor: 'rgba(70,70,70,0.8)', textBorderWidth: 2 } }
  ]
});
</script></body></html>
